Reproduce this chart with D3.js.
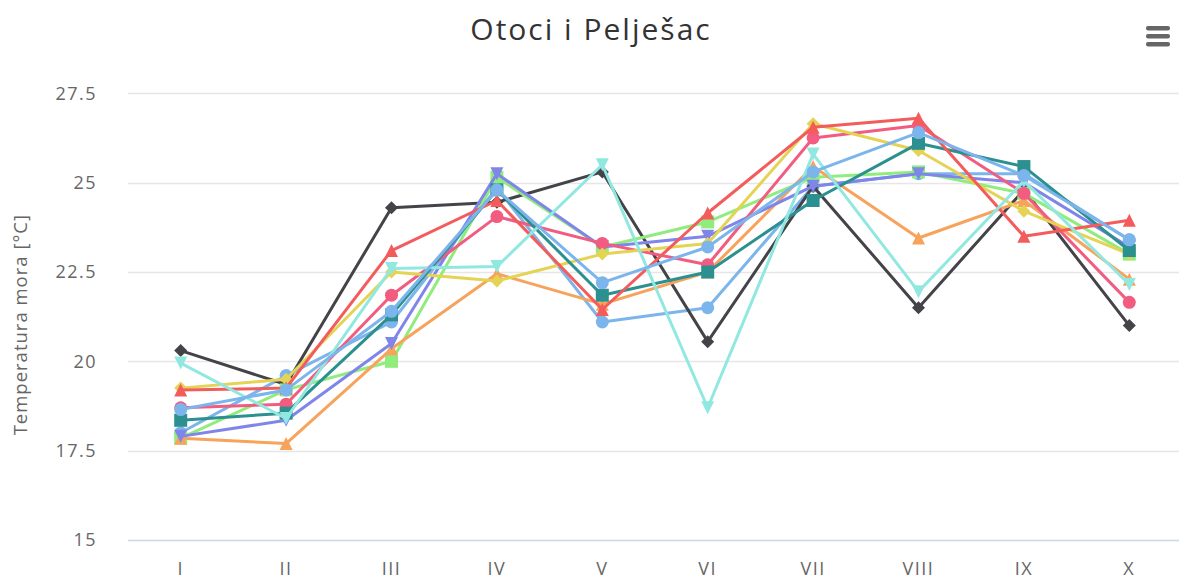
<!DOCTYPE html>
<html>
<head>
<meta charset="utf-8">
<script src="https://cdnjs.cloudflare.com/ajax/libs/d3/7.8.5/d3.min.js"></script>
<style>
  html, body { margin: 0; padding: 0; background: #fff; }
  svg { display: block; font-family: "Open Sans", "DejaVu Sans", sans-serif; }
</style>
</head>
<body>
<svg id="chart" width="1179" height="581"></svg>
<script>
const title = "Otoci i Pelješac";
const yAxisTitle = "Temperatura mora [°C]";
const categories = ["I", "II", "III", "IV", "V", "VI", "VII", "VIII", "IX", "X"];
const yTicks = [15, 17.5, 20, 22.5, 25, 27.5];

const seriesA = [18.0, 19.6, 21.1, 24.85, 21.1, 21.5, 24.9, 25.25, 25.25, 23.4];
const seriesB = [20.3, 19.35, 24.3, 24.45, 25.3, 20.55, 24.9, 21.5, 24.8, 21.0];
const seriesC = [17.85, 19.2, 20.0, 25.15, 23.2, 23.9, 25.15, 25.3, 24.7, 23.0];
const seriesD = [17.85, 17.7, 20.35, 22.45, 21.6, 22.5, 25.45, 23.45, 24.5, 22.3];
const seriesE = [17.9, 18.35, 20.5, 25.25, 23.2, 23.5, 24.9, 25.25, 25.0, 23.2];
const seriesF = [18.7, 18.8, 21.85, 24.05, 23.3, 22.7, 26.25, 26.6, 24.7, 21.65];
const seriesG = [19.25, 19.5, 22.5, 22.25, 23.0, 23.3, 26.65, 25.9, 24.2, 23.0];
const seriesH = [18.35, 18.55, 21.3, 24.8, 21.85, 22.5, 24.5, 26.1, 25.45, 23.1];
const seriesI = [19.2, 19.25, 23.1, 24.5, 21.45, 24.15, 26.55, 26.8, 23.5, 23.95];
const seriesJ = [19.95, 18.4, 22.6, 22.65, 25.5, 18.7, 25.8, 21.95, 25.05, 22.15];
const seriesK = [18.65, 19.2, 21.4, 24.8, 22.2, 23.2, 25.3, 26.4, 25.2, 23.4];

const allSeries = [seriesA, seriesB, seriesC, seriesD, seriesE, seriesF, seriesG, seriesH, seriesI, seriesJ, seriesK];
const colors = ["#7cb5ec", "#434348", "#90ed7d", "#f7a35c", "#8085e9", "#f15c80", "#e4d354", "#2b908f", "#f45b5b", "#91e8e1", "#7cb5ec"];
const symbols = ["circle", "diamond", "square", "triangle", "triangle-down"];

const svg = d3.select("#chart");
const W = 1179, H = 581;
const plotLeft = 128, plotRight = 1182, plotTop = 93.3, plotBottom = 540;

const x = d3.scalePoint().domain(categories).range([plotLeft, plotRight]).padding(0.5);
const y = d3.scaleLinear().domain([15, 27.5]).range([plotBottom, plotTop]);

// title
svg.append("text")
  .attr("x", 591).attr("y", 40)
  .attr("text-anchor", "middle")
  .attr("fill", "#333333")
  .style("font-size", "30px")
  .style("letter-spacing", "2px")
  .text(title);

// hamburger menu
const menu = svg.append("g").attr("transform", "translate(1146,26)");
[0, 8, 16].forEach(dy => {
  menu.append("rect").attr("x", 0).attr("y", dy).attr("width", 24).attr("height", 4.5)
    .attr("rx", 2).attr("fill", "#666666");
});

// grid
const grid = svg.append("g");
grid.selectAll("line").data(yTicks.filter(t => t !== 15)).join("line")
  .attr("x1", plotLeft).attr("x2", W)
  .attr("y1", d => Math.round(y(d)) + 0.5).attr("y2", d => Math.round(y(d)) + 0.5)
  .attr("stroke", "#e6e6e6").attr("stroke-width", 1.5);
grid.append("line")
  .attr("x1", plotLeft).attr("x2", W)
  .attr("y1", Math.round(y(15)) + 0.5).attr("y2", Math.round(y(15)) + 0.5)
  .attr("stroke", "#ccd6eb").attr("stroke-width", 1.5);

// y labels
svg.append("g").selectAll("text").data(yTicks).join("text")
  .attr("x", 97).attr("y", d => y(d))
  .attr("dy", "0.36em")
  .attr("text-anchor", "end")
  .attr("fill", "#666666")
  .style("font-size", "18px")
  .style("letter-spacing", "1.5px")
  .text(d => String(d));

// x labels
svg.append("g").selectAll("text").data(categories).join("text")
  .attr("x", d => x(d)).attr("y", 575)
  .attr("text-anchor", "middle")
  .attr("fill", "#666666")
  .style("font-size", "18px")
  .style("letter-spacing", "1.5px")
  .text(d => d);

// y axis title
svg.append("text")
  .attr("transform", `translate(27,${(plotTop + plotBottom) / 2 + 8}) rotate(-90)`)
  .attr("text-anchor", "middle")
  .attr("fill", "#666666")
  .style("font-size", "18.5px")
  .style("letter-spacing", "1px")
  .text(yAxisTitle);

function symbolPath(type, r) {
  switch (type) {
    case "circle":
      return `M ${-r},0 A ${r},${r} 0 1,0 ${r},0 A ${r},${r} 0 1,0 ${-r},0 Z`;
    case "diamond":
      return `M 0,${-r} L ${r},0 L 0,${r} L ${-r},0 Z`;
    case "square":
      return `M ${-r},${-r} L ${r},${-r} L ${r},${r} L ${-r},${r} Z`;
    case "triangle":
      return `M 0,${-r} L ${r},${r} L ${-r},${r} Z`;
    case "triangle-down":
      return `M ${-r},${-r} L ${r},${-r} L 0,${r} Z`;
  }
}

const line = d3.line().x((d, i) => x(categories[i])).y(d => y(d));

allSeries.forEach((data, si) => {
  const g = svg.append("g");
  g.append("path")
    .attr("d", line(data))
    .attr("fill", "none")
    .attr("stroke", colors[si])
    .attr("stroke-width", 3)
    .attr("stroke-linejoin", "round")
    .attr("stroke-linecap", "round");
  const sym = symbols[si % symbols.length];
  g.selectAll("path.m").data(data).join("path")
    .attr("class", "m")
    .attr("transform", (d, i) => `translate(${x(categories[i])},${y(d)})`)
    .attr("d", symbolPath(sym, 6.5))
    .attr("fill", colors[si]);
});
</script>
</body>
</html>
